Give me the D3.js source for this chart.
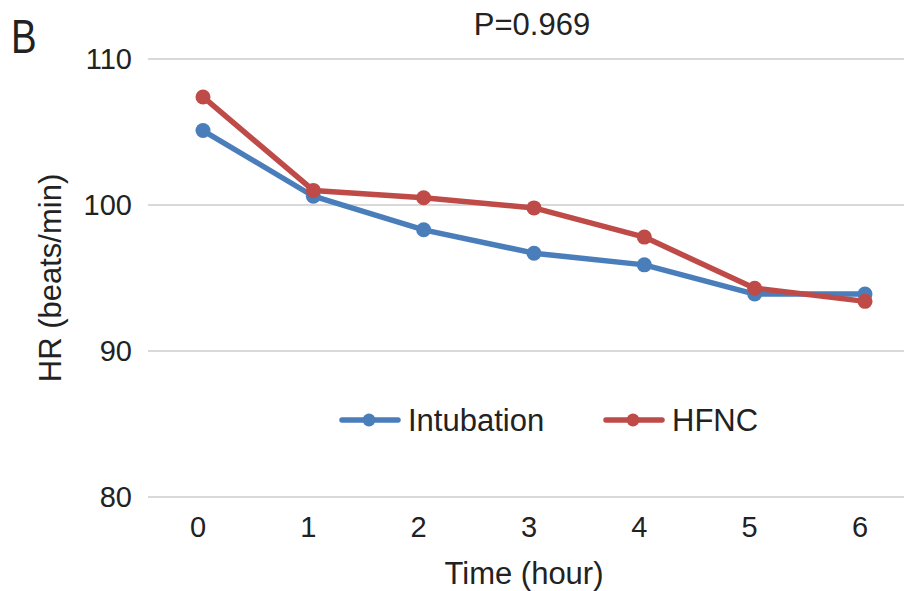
<!DOCTYPE html>
<html><head><meta charset="utf-8">
<script src="https://cdn.jsdelivr.net/npm/d3@7"></script>
<style>body{margin:0;background:#fff}svg{display:block}text{font-family:"Liberation Sans",Arial,sans-serif;fill:#222}</style>
</head><body><svg id="c" width="904" height="591"></svg>
<script>
const hours = [0,1,2,3,4,5,6];
const intubation = [105.1,100.6,98.3,96.7,95.9,93.9,93.9];
const hfnc = [107.4,101.0,100.5,99.8,97.8,94.3,93.4];
const yTicks = [80,90,100,110];
const seriesNames = ["Intubation","HFNC"];
const colors = ["#4a7ebb","#be4b48"];

const svg = d3.select("#c");
const x = d3.scaleLinear().domain([0,6]).range([203,865]);
const y = d3.scaleLinear().domain([80,110]).range([497,59]);

// gridlines
svg.append("g").selectAll("line").data(yTicks).join("line")
  .attr("x1",148).attr("x2",904).attr("y1",d=>y(d)).attr("y2",d=>y(d))
  .attr("stroke","#d9d9d9").attr("stroke-width",2);

// y tick labels
svg.append("g").selectAll("text").data(yTicks).join("text")
  .attr("x",132).attr("y",d=>y(d)).attr("dy","0.35em").attr("text-anchor","end")
  .attr("font-size",29).text(d=>d);

// x tick labels
svg.append("g").selectAll("text").data(hours).join("text")
  .attr("x",d=>x(d)-5).attr("y",537).attr("text-anchor","middle")
  .attr("font-size",29).text(d=>d);

// titles
svg.append("text").attr("x",532).attr("y",35).attr("text-anchor","middle").attr("font-size",31).text("P=0.969");
svg.append("text").attr("transform","translate(11,53) scale(0.8,1)").attr("font-size",48).text("B");
svg.append("text").attr("x",524).attr("y",584).attr("text-anchor","middle").attr("font-size",31).text("Time (hour)");
svg.append("text").attr("transform","translate(61,278) rotate(-90)").attr("text-anchor","middle").attr("font-size",31).text("HR (beats/min)");

const series = [intubation,hfnc];
const line = d3.line().x((d,i)=>x(hours[i])).y(d=>y(d));
series.forEach((s,k)=>{
  const g = svg.append("g");
  g.append("path").datum(s).attr("d",line).attr("fill","none")
    .attr("stroke",colors[k]).attr("stroke-width",5.5).attr("stroke-linejoin","round");
  g.selectAll("circle").data(s).join("circle")
    .attr("cx",(d,i)=>x(hours[i])).attr("cy",d=>y(d)).attr("r",7.5).attr("fill",colors[k]);
});

// legend
const legX = [342,606];
seriesNames.forEach((n,k)=>{
  const g = svg.append("g").attr("transform",`translate(${legX[k]},420)`);
  g.append("line").attr("x1",0).attr("x2",56).attr("y1",0).attr("y2",0).attr("stroke",colors[k]).attr("stroke-width",5.5).attr("stroke-linecap","round");
  g.append("circle").attr("cx",27).attr("cy",0).attr("r",6.5).attr("fill",colors[k]);
  g.append("text").attr("x",66).attr("y",0).attr("dy","0.35em").attr("font-size",31).text(n);
});
</script></body></html>
